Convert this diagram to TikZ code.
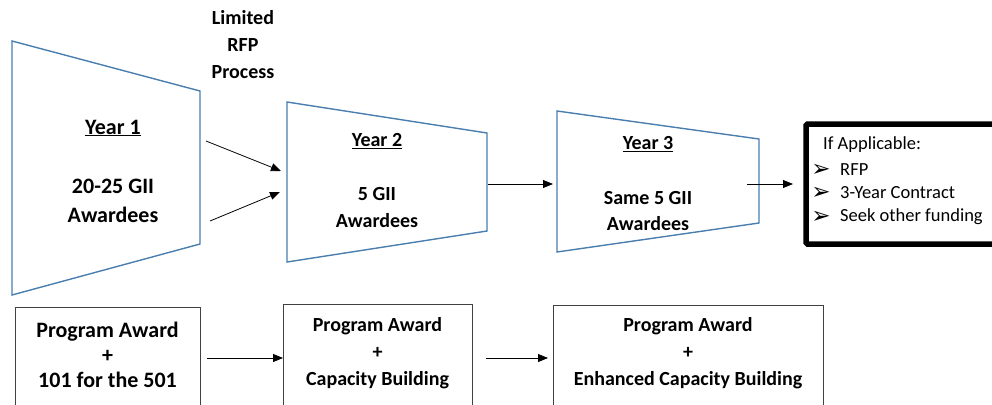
\documentclass[tikz,border=0pt]{standalone}
\usepackage{fontspec}
\setmainfont{Carlito}
\newfontfamily\symfont{DejaVu Sans}
\usetikzlibrary{arrows.meta}
\begin{document}
\begin{tikzpicture}[x=1pt,y=-1pt,
  con/.style={-{Triangle[length=10pt,width=8pt]}, line width=0.8pt, black},
  boldtxt/.style={font=\fontsize{20}{27}\selectfont\bfseries, align=center, inner sep=0pt},
  bigtxt/.style={font=\fontsize{22}{28}\selectfont\bfseries, align=center, inner sep=0pt},
  awbox/.style={draw=black!75, line width=0.9pt},
  listtxt/.style={font=\fontsize{18.5}{23.5}\selectfont, anchor=west, inner sep=0pt}]
\useasboundingbox (0,0) rectangle (992,404);
\definecolor{trapblue}{HTML}{4A7EAF}
\tikzset{trap/.style={draw=trapblue, line width=1.4pt}}
\begin{scope}
\clip (0,0) rectangle (992,404);
% trapezoids
\draw[trap] (12,41) -- (200,91) -- (200,244) -- (12,295) -- cycle;
\draw[trap] (287,102) -- (487,133) -- (487,231) -- (287,262) -- cycle;
\draw[trap] (557,111) -- (759,139) -- (759,223) -- (557,252) -- cycle;
% final black box
\draw[line width=5.5pt, rounded corners=1.5pt] (806,124) rectangle (1010,244);
% bottom boxes
\node[awbox, minimum width=185pt, minimum height=110pt, anchor=north west] (b1) at (15,307) {};
\node[awbox, minimum width=189pt, minimum height=110pt, anchor=north west] (b2) at (283,304) {};
\node[awbox, minimum width=270pt, minimum height=110pt, anchor=north west] (b3) at (553,305) {};
\end{scope}
% texts
\node[boldtxt] (lim) at (243,45) {Limited\\RFP\\Process};
\node[bigtxt] (y1) at (113,128) {\underline{Year 1}};
\node[bigtxt, font=\fontsize{22}{29}\selectfont\bfseries] (a1) at (113,200.5) {20-25 GII\\Awardees};
\node[boldtxt] (y2) at (377,141) {\underline{Year 2}};
\node[boldtxt] (a2) at (377,207.5) {5 GII\\Awardees};
\node[boldtxt] (y3) at (648,144) {\underline{Year 3}};
\node[boldtxt, font=\fontsize{20}{26}\selectfont\bfseries] (a3) at (648,211) {Same 5 GII\\Awardees};
\node[listtxt] (ifa) at (823,145) {If Applicable:};
\node[listtxt] (l1) at (840,170) {RFP};
\node[listtxt] (l2) at (840,193) {3-Year Contract};
\node[listtxt] (l3) at (840,217) {Seek other funding};
\foreach \n in {l1,l2,l3}
  \node[font=\symfont\fontsize{23}{23}\selectfont, inner sep=0pt] at ([xshift=-19pt]\n.west) {➢};
\node[bigtxt, font=\fontsize{22}{25}\selectfont\bfseries] (t1) at (107.5,355) {Program Award\\+\\101 for the 501};
\node[boldtxt] (t2) at (377.5,353) {Program Award\\+\\Capacity Building};
\node[boldtxt] (t3) at (688,353) {Program Award\\+\\Enhanced Capacity Building};
% connector coordinates
\coordinate (p1s) at (206,141); \coordinate (p1e) at (281,171);
\coordinate (p2s) at (210,221); \coordinate (p2e) at (280,192);
\coordinate (p3s) at (488,184); \coordinate (p3e) at (553,184);
\coordinate (p4s) at (747,184); \coordinate (p4e) at (793,184);
\coordinate (q1s) at (207,358); \coordinate (q2s) at (486,358);
\draw[con] (p1s) -- (p1e);
\draw[con] (p2s) -- (p2e);
\draw[con] (p3s) -- (p3e);
\draw[con] (p4s) -- (p4e);
\draw[con] (q1s) -- (b2.west |- q1s);
\draw[con] (q2s) -- ([xshift=-5pt]b3.west |- q2s);
\end{tikzpicture}
\end{document}
